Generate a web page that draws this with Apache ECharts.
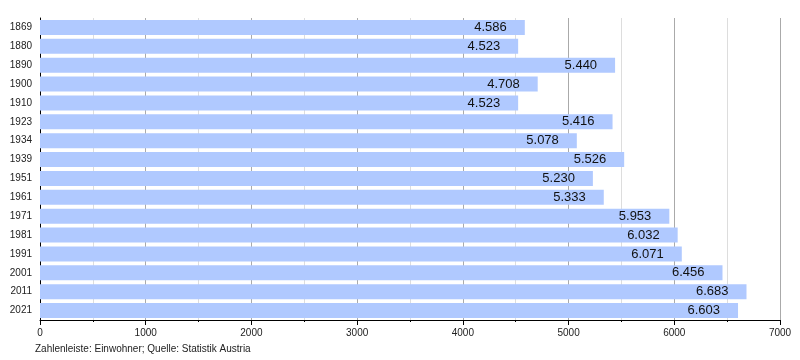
<!DOCTYPE html>
<html><head><meta charset="utf-8">
<script src="https://cdn.jsdelivr.net/npm/echarts@6/dist/echarts.min.js"></script>
<style>html,body{margin:0;padding:0;background:#fff}#c{width:800px;height:360px}</style>
</head><body><div id="c"></div>
<script>
const years = ['1869','1880','1890','1900','1910','1923','1934','1939','1951','1961','1971','1981','1991','2001','2011','2021'];
const population = [4586,4523,5440,4708,4523,5416,5078,5526,5230,5333,5953,6032,6071,6456,6683,6603];
const footnote = 'Zahlenleiste: Einwohner; Quelle: Statistik Austria';

const fmt = v => { const s = String(v); return s.length > 3 ? s.slice(0, s.length-3) + '.' + s.slice(-3) : s; };
const FF = 'Liberation Sans, Arial, sans-serif';
const chart = echarts.init(document.getElementById('c'), null, {renderer:'canvas'});
chart.setOption({
  animation:false,
  textStyle:{fontFamily:FF},
  grid:{left:40, right:20, top:18, bottom:40, containLabel:false},
  xAxis:{type:'value', min:0, max:7000, interval:1000,
    axisLine:{show:true, lineStyle:{color:'#000', width:1}},
    axisTick:{show:true, length:5, lineStyle:{color:'#000'}},
    minorTick:{show:true, splitNumber:2, length:2, lineStyle:{color:'#000'}},
    splitLine:{show:true, lineStyle:{color:'#aaaaaa', width:1}},
    minorSplitLine:{show:true, lineStyle:{color:'#dddddd', width:1}},
    axisLabel:{color:'#222', fontSize:10, margin:8, formatter:v=>String(v)}
  },
  yAxis:{type:'category', data:years, inverse:true,
    axisLine:{show:true, onZero:false, lineStyle:{color:'#000', width:1}},
    axisTick:{show:false},
    axisLabel:{color:'#222', fontSize:10, margin:8}
  },
  series:[{type:'bar', data:population, barCategoryGap:'20%',
    itemStyle:{color:'#b0c9ff'},
    label:{show:true, position:'insideRight', distance:18, color:'#111', fontSize:13,
      formatter:p=>fmt(p.value)}
  }],
  graphic:[{type:'text', left:35, top:344, style:{text:footnote, fontSize:10, fill:'#222', fontFamily:FF}}]
});
</script></body></html>
